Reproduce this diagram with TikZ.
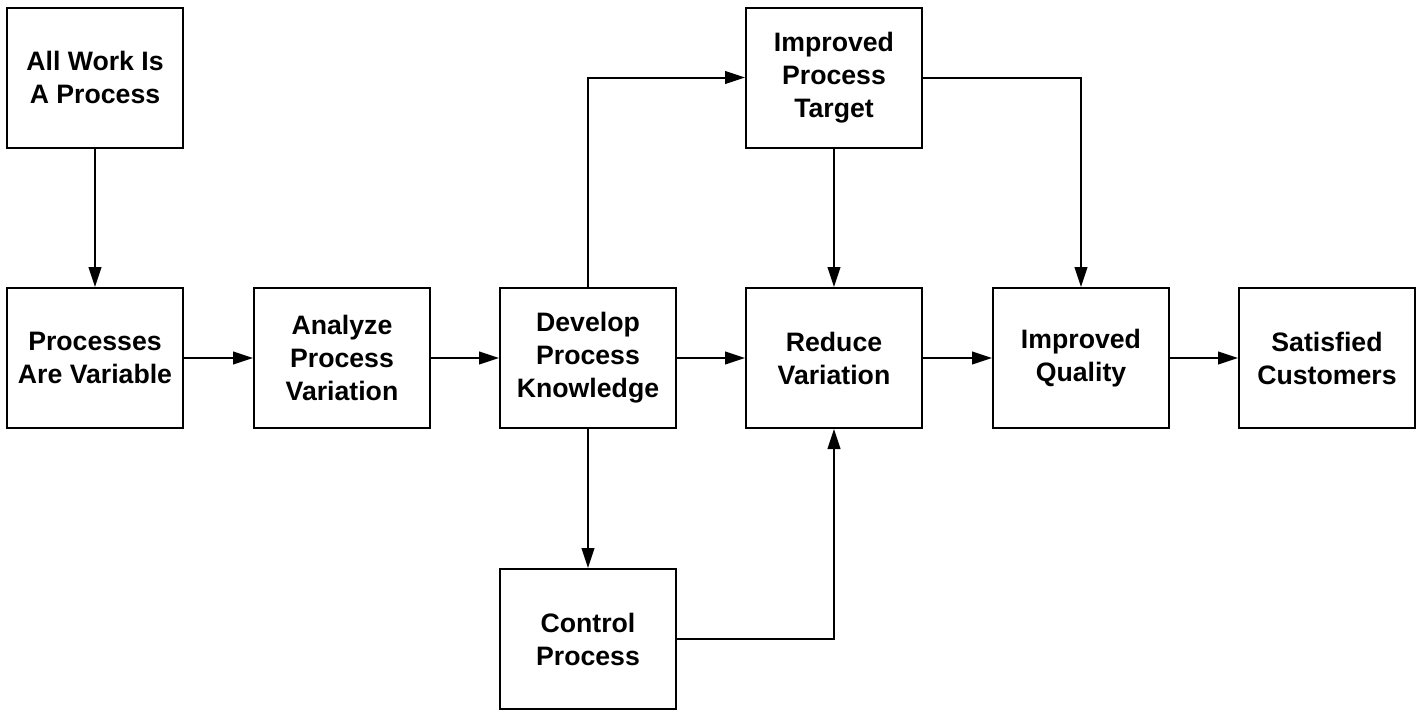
\documentclass[tikz,border=0pt]{standalone}
\usepackage{fontspec}
\setmainfont{Liberation Sans}
\usetikzlibrary{arrows.meta}
\begin{document}
\begin{tikzpicture}[x=0.75pt,y=-0.75pt,
  box/.style={draw,line width=1.5pt,minimum width=132pt,minimum height=105pt,inner sep=0pt,
    align=center,font=\fontsize{20pt}{24.75pt}\selectfont\bfseries},
  conn/.style={line width=1.5pt,-{Triangle[length=15pt,width=9.5pt]}}]
\useasboundingbox (0,0) rectangle (1424,719);
\node[box] (work) at (95,77.5) {All Work Is\\A Process};
\node[box] (var) at (95,358) {Processes\\Are Variable};
\node[box] (ana) at (342,358) {Analyze\\Process\\Variation};
\node[box] (dev) at (588,358) {Develop\\Process\\Knowledge};
\node[box] (red) at (834,358) {Reduce\\Variation};
\node[box] (qual) at (1081,358) {Improved\\Quality};
\node[box] (sat) at (1327,358) {Satisfied\\Customers};
\node[box] (tgt) at (834,77.5) {Improved\\Process\\Target};
\node[box] (ctl) at (588,639) {Control\\Process};
\draw[conn] (work) -- (var);
\draw[conn] (var) -- (ana);
\draw[conn] (ana) -- (dev);
\draw[conn] (dev) -- (red);
\draw[conn] (red) -- (qual);
\draw[conn] (qual) -- (sat);
\draw[conn] (dev.north) |- (tgt.west);
\draw[conn] (tgt) -- (red);
\draw[conn] (tgt.east) -| (qual.north);
\draw[conn] (dev) -- (ctl);
\draw[conn] (ctl.east) -| (red.south);
\end{tikzpicture}
\end{document}
